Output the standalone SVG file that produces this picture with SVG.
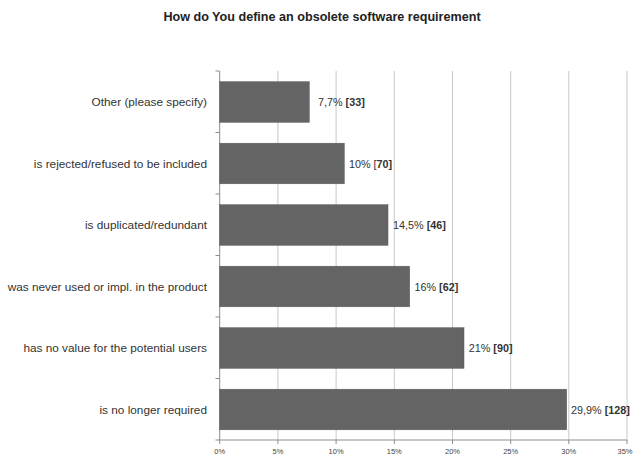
<svg xmlns="http://www.w3.org/2000/svg" width="635" height="460" viewBox="0 0 635 460">
  <style>
    text { font-family: "Liberation Sans", Arial, sans-serif; fill: #333; }
    .title { font-size: 12.6px; font-weight: bold; text-anchor: middle; fill: #222; }
    .cat { font-size: 11.8px; text-anchor: end; }
    .val { font-size: 10.8px; }
    .val tspan.b { font-weight: bold; }
    .tick { font-size: 7.5px; text-anchor: middle; fill: #444; }
    .grid { stroke: #c8c8c8; stroke-width: 1; }
    .axis { stroke: #8c8c8c; stroke-width: 1; fill: none; }
    .bar { fill: #646464; stroke: #5a5a5a; stroke-width: 0.5; }
  </style>

  <rect width="635" height="460" fill="#fff"/>

  <text class="title" x="322" y="21">How do You define an obsolete software requirement</text>

  <!-- vertical gridlines every 5% -->
  <g id="gridlines">
    <line class="grid" x1="277.9" y1="71" x2="277.9" y2="440"/>
    <line class="grid" x1="336.1" y1="71" x2="336.1" y2="440"/>
    <line class="grid" x1="394.3" y1="71" x2="394.3" y2="440"/>
    <line class="grid" x1="452.5" y1="71" x2="452.5" y2="440"/>
    <line class="grid" x1="510.7" y1="71" x2="510.7" y2="440"/>
    <line class="grid" x1="568.8" y1="71" x2="568.8" y2="440"/>
    <line class="grid" x1="627" y1="71" x2="627" y2="440"/>
  </g>

  <!-- axes with tick marks -->
  <g id="axes">
    <path class="axis" d="M219.7 71 V440 H627"/>
    <path class="axis" d="M215.5 71 H219.7 M215.5 132.5 H219.7 M215.5 194 H219.7 M215.5 255.5 H219.7 M215.5 317 H219.7 M215.5 378.5 H219.7 M215.5 440 H219.7"/>
    <path class="axis" d="M219.7 440 V444 M277.9 440 V444 M336.1 440 V444 M394.3 440 V444 M452.5 440 V444 M510.7 440 V444 M568.8 440 V444 M627 440 V444"/>
  </g>

  <g id="x-labels">
    <text class="tick" x="219.7" y="454">0%</text>
    <text class="tick" x="277.9" y="454">5%</text>
    <text class="tick" x="336.1" y="454">10%</text>
    <text class="tick" x="394.3" y="454">15%</text>
    <text class="tick" x="452.5" y="454">20%</text>
    <text class="tick" x="510.7" y="454">25%</text>
    <text class="tick" x="568.8" y="454">30%</text>
    <text class="tick" x="625" y="454">35%</text>
  </g>

  <g id="bar-other">
    <rect class="bar" x="219.7" y="81.7" width="89.6" height="40.6"/>
    <text class="cat" x="207" y="106">Other (please specify)</text>
    <text class="val" x="318" y="106">7,7% <tspan class="b">[33]</tspan></text>
  </g>

  <g id="bar-rejected">
    <rect class="bar" x="219.7" y="143.2" width="124.6" height="40.6"/>
    <text class="cat" x="207" y="167.5">is rejected/refused to be included</text>
    <text class="val" x="349" y="167.5">10% [<tspan class="b">70]</tspan></text>
  </g>

  <g id="bar-duplicated">
    <rect class="bar" x="219.7" y="204.7" width="168.3" height="40.6"/>
    <text class="cat" x="207" y="229">is duplicated/redundant</text>
    <text class="val" x="393" y="229">14,5% <tspan class="b">[46]</tspan></text>
  </g>

  <g id="bar-never-used">
    <rect class="bar" x="219.7" y="266.2" width="190" height="40.6"/>
    <text class="cat" x="207" y="290.5">was never used or impl. in the product</text>
    <text class="val" x="414.5" y="290.5">16% <tspan class="b">[62]</tspan></text>
  </g>

  <g id="bar-no-value">
    <rect class="bar" x="219.7" y="327.7" width="244.3" height="40.6"/>
    <text class="cat" x="207" y="352">has no value for the potential users</text>
    <text class="val" x="468.7" y="352">21% <tspan class="b">[90]</tspan></text>
  </g>

  <g id="bar-no-longer">
    <rect class="bar" x="219.7" y="389.2" width="347" height="40.6"/>
    <text class="cat" x="207" y="413.5">is no longer required</text>
    <text class="val" x="571" y="413.5">29,9% <tspan class="b">[128]</tspan></text>
  </g>
</svg>
